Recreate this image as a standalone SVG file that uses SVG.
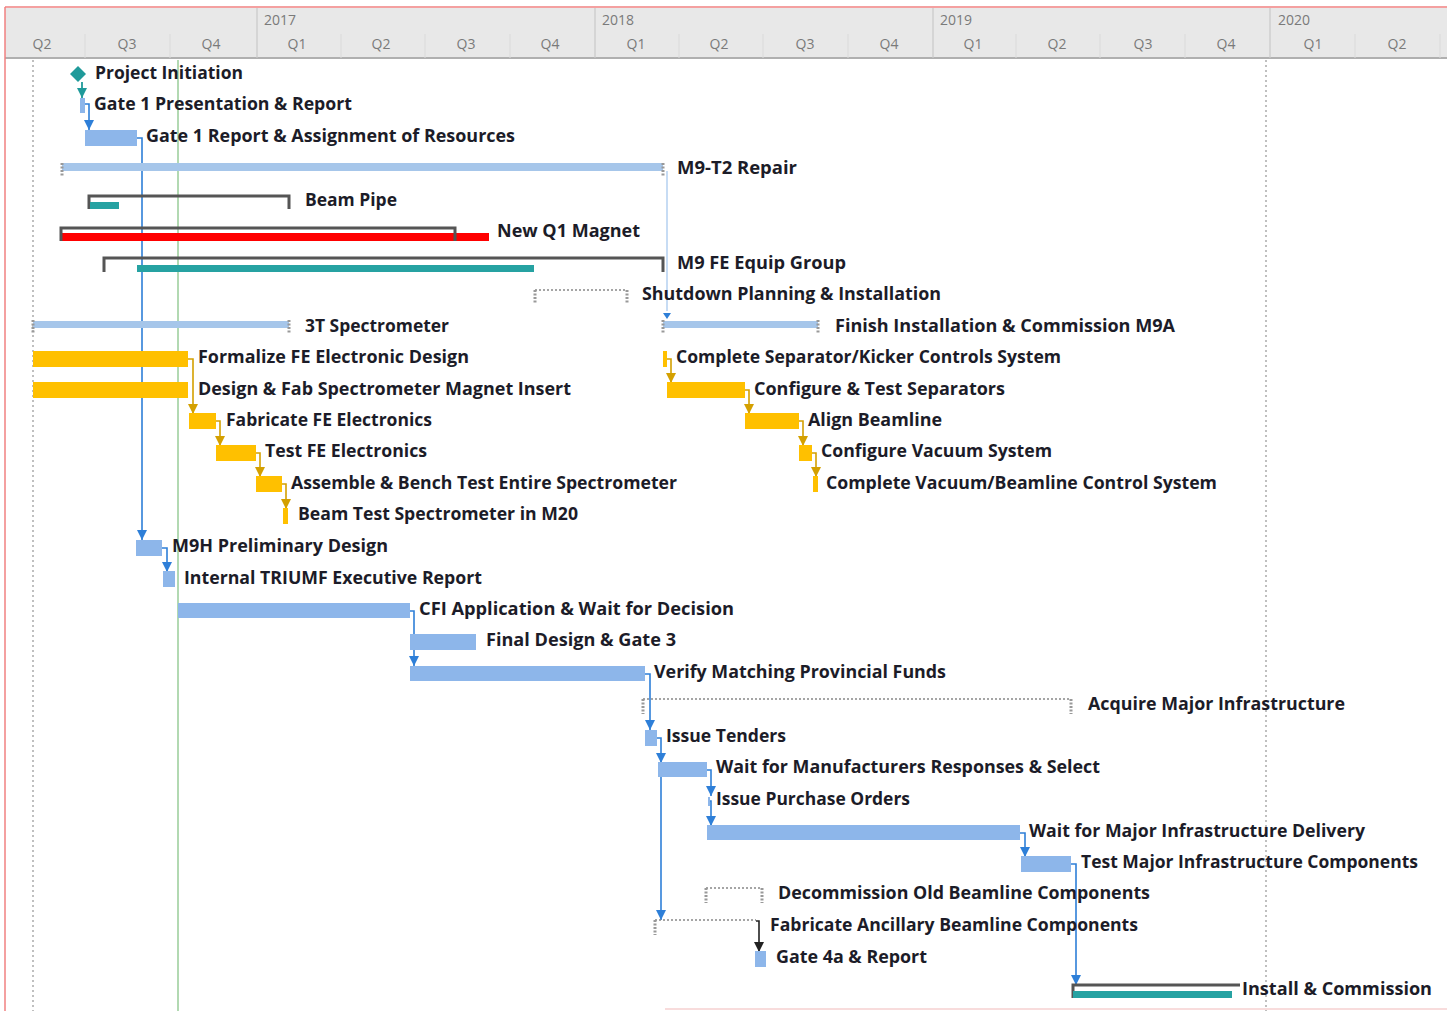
<svg xmlns="http://www.w3.org/2000/svg" width="1447" height="1011" viewBox="0 0 1447 1011">
<style>
.t{font-family:"Open Sans","Liberation Sans",sans-serif;font-weight:700;font-size:18px;fill:#1c1c28}
.hy{font-family:"Open Sans","Liberation Sans",sans-serif;font-size:14px;fill:#7a7a7a}
.hq{font-family:"Open Sans","Liberation Sans",sans-serif;font-size:14px;fill:#7a7a7a;text-anchor:middle}
.task{fill:#8db6ea}
.sum{fill:#a6c6ea}
.yel{fill:#ffc000}
.teal{fill:#26a2a2}
.red{fill:#ff0000}
.br{fill:none;stroke:#555;stroke-width:3}
.dot{fill:none;stroke:#888;stroke-width:1.5;stroke-dasharray:2 2}
.tick{fill:none;stroke:#999;stroke-width:3;stroke-dasharray:2 1.5}
.cb{fill:none;stroke:#2e7fd8;stroke-width:1.6}
.cy{fill:none;stroke:#d4a000;stroke-width:1.6}
.ck{fill:none;stroke:#222;stroke-width:1.6}
.ct{fill:none;stroke:#1f9a9a;stroke-width:1.8}
.cl{fill:none;stroke:#b5d0f0;stroke-width:1.5}
</style>
<defs>
<marker id="ab" markerUnits="userSpaceOnUse" markerWidth="10" markerHeight="10" viewBox="0 0 10 10" refX="10" refY="5" orient="auto"><path d="M0,0 L10,5 L0,10 z" fill="#2e7fd8"/></marker>
<marker id="ay" markerUnits="userSpaceOnUse" markerWidth="10" markerHeight="10" viewBox="0 0 10 10" refX="10" refY="5" orient="auto"><path d="M0,0 L10,5 L0,10 z" fill="#d4a000"/></marker>
<marker id="ak" markerUnits="userSpaceOnUse" markerWidth="10" markerHeight="10" viewBox="0 0 10 10" refX="10" refY="5" orient="auto"><path d="M0,0 L10,5 L0,10 z" fill="#222"/></marker>
<marker id="at" markerUnits="userSpaceOnUse" markerWidth="10" markerHeight="10" viewBox="0 0 10 10" refX="10" refY="5" orient="auto"><path d="M0,0 L10,5 L0,10 z" fill="#1f9a9a"/></marker>
</defs>
<rect x="0" y="0" width="1447" height="1011" fill="#fff"/>
<g id="timescale">
<rect x="5" y="8" width="1442" height="50" fill="#e8e8e8"/>
<line x1="5" y1="58" x2="1447" y2="58" stroke="#b0b0b0" stroke-width="2"/>
<g stroke="#dadada" stroke-width="1">
<line x1="85" y1="34" x2="85" y2="58"/><line x1="170" y1="34" x2="170" y2="58"/><line x1="341" y1="34" x2="341" y2="58"/><line x1="425" y1="34" x2="425" y2="58"/><line x1="510" y1="34" x2="510" y2="58"/><line x1="679" y1="34" x2="679" y2="58"/><line x1="763" y1="34" x2="763" y2="58"/><line x1="848" y1="34" x2="848" y2="58"/><line x1="1016" y1="34" x2="1016" y2="58"/><line x1="1100" y1="34" x2="1100" y2="58"/><line x1="1185" y1="34" x2="1185" y2="58"/><line x1="1355" y1="34" x2="1355" y2="58"/><line x1="1440" y1="34" x2="1440" y2="58"/>
</g>
<g stroke="#c8c8c8" stroke-width="1.2">
<line x1="257" y1="8" x2="257" y2="58"/><line x1="595" y1="8" x2="595" y2="58"/><line x1="933" y1="8" x2="933" y2="58"/><line x1="1270" y1="8" x2="1270" y2="58"/>
</g>
<text class="hy" x="264" y="25">2017</text><text class="hy" x="602" y="25">2018</text><text class="hy" x="940" y="25">2019</text><text class="hy" x="1278" y="25">2020</text>
<text class="hq" x="42" y="49">Q2</text><text class="hq" x="127" y="49">Q3</text><text class="hq" x="211" y="49">Q4</text><text class="hq" x="297" y="49">Q1</text><text class="hq" x="381" y="49">Q2</text><text class="hq" x="466" y="49">Q3</text><text class="hq" x="550" y="49">Q4</text><text class="hq" x="636" y="49">Q1</text><text class="hq" x="719" y="49">Q2</text><text class="hq" x="805" y="49">Q3</text><text class="hq" x="889" y="49">Q4</text><text class="hq" x="973" y="49">Q1</text><text class="hq" x="1057" y="49">Q2</text><text class="hq" x="1143" y="49">Q3</text><text class="hq" x="1226" y="49">Q4</text><text class="hq" x="1313" y="49">Q1</text><text class="hq" x="1397" y="49">Q2</text>
</g>
<g id="gridlines">
<line x1="33" y1="60" x2="33" y2="1011" stroke="#aaa" stroke-width="1.5" stroke-dasharray="2 3"/>
<line x1="1266" y1="60" x2="1266" y2="1011" stroke="#aaa" stroke-width="1.5" stroke-dasharray="2 3"/>
<line x1="178" y1="60" x2="178" y2="1011" stroke="#9fd09f" stroke-width="1.6"/>
<line x1="5" y1="7" x2="1447" y2="7" stroke="#f08080" stroke-width="1.5"/>
<line x1="5" y1="7" x2="5" y2="1011" stroke="#f08080" stroke-width="1.5"/>
<line x1="665" y1="1009" x2="1447" y2="1009" stroke="#f6d0d0" stroke-width="1.5"/>
</g>
<g id="connectors">
<path class="ct" d="M82,82 V98" marker-end="url(#at)"/>
<path class="cb" d="M85,104 H89 V130" marker-end="url(#ab)"/>
<path class="cb" d="M137,138 H142 V540" marker-end="url(#ab)"/>
<path class="cb" d="M162,548 H167 V572" marker-end="url(#ab)"/>
<path class="cb" d="M410,611 H414 V666" marker-end="url(#ab)"/>
<path class="cb" d="M645,674 H650 V730" marker-end="url(#ab)"/>
<path class="cb" d="M657,738 H661 V763" marker-end="url(#ab)"/>
<path class="cb" d="M661,762 V920" marker-end="url(#ab)"/>
<path class="cb" d="M707,770 H711 V796" marker-end="url(#ab)"/>
<path class="cb" d="M710,801 H711 V826" marker-end="url(#ab)"/>
<path class="cb" d="M1020,833 H1025 V857" marker-end="url(#ab)"/>
<path class="cb" d="M1071,864 H1076 V985" marker-end="url(#ab)"/>
<path class="ck" d="M756,921 H759 V952" marker-end="url(#ak)"/>
<path class="cl" d="M667,171 V311"/>
<path d="M663,313 L671,313 L667,319 z" fill="#2e7fd8"/>
<path class="cy" d="M188,359 H193 V414" marker-end="url(#ay)"/>
<path class="cy" d="M216,421 H220 V446" marker-end="url(#ay)"/>
<path class="cy" d="M256,453 H260 V477" marker-end="url(#ay)"/>
<path class="cy" d="M282,484 H286 V509" marker-end="url(#ay)"/>
<path class="cy" d="M667,359 H671 V383" marker-end="url(#ay)"/>
<path class="cy" d="M745,390 H749 V414" marker-end="url(#ay)"/>
<path class="cy" d="M799,421 H803 V446" marker-end="url(#ay)"/>
<path class="cy" d="M812,453 H816 V477" marker-end="url(#ay)"/>
</g>
<g id="n-project-initiation"><path d="M78,66 L86,74 L78,82 L70,74 z" fill="#1f9a9a"/><text class="t" x="95" y="79" textLength="148" lengthAdjust="spacingAndGlyphs">Project Initiation</text></g>
<g id="n-gate1-presentation"><rect class="task" x="80" y="98" width="5" height="15"/><text class="t" x="94" y="110" textLength="258" lengthAdjust="spacingAndGlyphs">Gate 1 Presentation &amp; Report</text></g>
<g id="n-gate1-report"><rect class="task" x="85" y="130" width="52" height="16"/><text class="t" x="146" y="142" textLength="369" lengthAdjust="spacingAndGlyphs">Gate 1 Report &amp; Assignment of Resources</text></g>
<g id="n-m9t2"><rect class="sum" x="62" y="163" width="601" height="8"/><path class="tick" d="M62,163 V177 M663,163 V177"/><text class="t" x="677" y="174" textLength="120" lengthAdjust="spacingAndGlyphs">M9-T2 Repair</text></g>
<g id="n-beam-pipe"><path class="br" d="M89,209 V196 H289 V209"/><rect class="teal" x="90" y="202" width="29" height="7"/><text class="t" x="305" y="206" textLength="92" lengthAdjust="spacingAndGlyphs">Beam Pipe</text></g>
<g id="n-new-q1"><rect class="red" x="62" y="233" width="427" height="8"/><path class="br" d="M61,241 V228 H455 V241"/><text class="t" x="497" y="237" textLength="143" lengthAdjust="spacingAndGlyphs">New Q1 Magnet</text></g>
<g id="n-m9fe"><path class="br" d="M104,272 V258 H663 V272"/><rect class="teal" x="137" y="265" width="397" height="7"/><text class="t" x="677" y="269" textLength="169" lengthAdjust="spacingAndGlyphs">M9 FE Equip Group</text></g>
<g id="n-shutdown"><path class="dot" d="M535,290 H627"/><path class="tick" d="M535,290 V304 M627,290 V304"/><text class="t" x="642" y="300" textLength="299" lengthAdjust="spacingAndGlyphs">Shutdown Planning &amp; Installation</text></g>
<g id="n-3t"><rect class="sum" x="33" y="321" width="256" height="7"/><path class="tick" d="M33,320 V333 M289,320 V333"/><text class="t" x="305" y="332" textLength="144" lengthAdjust="spacingAndGlyphs">3T Spectrometer</text></g>
<g id="n-finish-m9a"><rect class="sum" x="663" y="321" width="155" height="7"/><path class="tick" d="M663,320 V333 M818,320 V333"/><text class="t" x="835" y="332" textLength="340" lengthAdjust="spacingAndGlyphs">Finish Installation &amp; Commission M9A</text></g>
<g id="n-formalize"><rect class="yel" x="33" y="351" width="155" height="16"/><text class="t" x="198" y="363" textLength="271" lengthAdjust="spacingAndGlyphs">Formalize FE Electronic Design</text></g>
<g id="n-complete-sep"><rect class="yel" x="663" y="351" width="4" height="16"/><text class="t" x="676" y="363" textLength="385" lengthAdjust="spacingAndGlyphs">Complete Separator/Kicker Controls System</text></g>
<g id="n-design-fab"><rect class="yel" x="33" y="382" width="155" height="16"/><text class="t" x="198" y="395" textLength="373" lengthAdjust="spacingAndGlyphs">Design &amp; Fab Spectrometer Magnet Insert</text></g>
<g id="n-config-sep"><rect class="yel" x="667" y="382" width="78" height="16"/><text class="t" x="754" y="395" textLength="251" lengthAdjust="spacingAndGlyphs">Configure &amp; Test Separators</text></g>
<g id="n-fab-fe"><rect class="yel" x="189" y="413" width="27" height="16"/><text class="t" x="226" y="426" textLength="206" lengthAdjust="spacingAndGlyphs">Fabricate FE Electronics</text></g>
<g id="n-align"><rect class="yel" x="745" y="413" width="54" height="16"/><text class="t" x="808" y="426" textLength="134" lengthAdjust="spacingAndGlyphs">Align Beamline</text></g>
<g id="n-test-fe"><rect class="yel" x="216" y="445" width="40" height="16"/><text class="t" x="265" y="457" textLength="162" lengthAdjust="spacingAndGlyphs">Test FE Electronics</text></g>
<g id="n-config-vac"><rect class="yel" x="799" y="445" width="13" height="16"/><text class="t" x="821" y="457" textLength="231" lengthAdjust="spacingAndGlyphs">Configure Vacuum System</text></g>
<g id="n-assemble"><rect class="yel" x="256" y="476" width="26" height="16"/><text class="t" x="291" y="489" textLength="386" lengthAdjust="spacingAndGlyphs">Assemble &amp; Bench Test Entire Spectrometer</text></g>
<g id="n-complete-vac"><rect class="yel" x="813" y="476" width="5" height="16"/><text class="t" x="826" y="489" textLength="391" lengthAdjust="spacingAndGlyphs">Complete Vacuum/Beamline Control System</text></g>
<g id="n-beam-test"><rect class="yel" x="283" y="508" width="5" height="16"/><text class="t" x="298" y="520" textLength="280" lengthAdjust="spacingAndGlyphs">Beam Test Spectrometer in M20</text></g>
<g id="n-m9h"><rect class="task" x="136" y="540" width="26" height="16"/><text class="t" x="172" y="552" textLength="216" lengthAdjust="spacingAndGlyphs">M9H Preliminary Design</text></g>
<g id="n-triumf"><rect class="task" x="163" y="571" width="12" height="16"/><text class="t" x="184" y="584" textLength="298" lengthAdjust="spacingAndGlyphs">Internal TRIUMF Executive Report</text></g>
<g id="n-cfi"><rect class="task" x="178" y="603" width="232" height="15"/><text class="t" x="419" y="615" textLength="315" lengthAdjust="spacingAndGlyphs">CFI Application &amp; Wait for Decision</text></g>
<g id="n-final-design"><rect class="task" x="410" y="634" width="66" height="16"/><text class="t" x="486" y="646" textLength="190" lengthAdjust="spacingAndGlyphs">Final Design &amp; Gate 3</text></g>
<g id="n-verify"><rect class="task" x="410" y="666" width="235" height="15"/><text class="t" x="654" y="678" textLength="292" lengthAdjust="spacingAndGlyphs">Verify Matching Provincial Funds</text></g>
<g id="n-acquire"><path class="dot" d="M643,699 H1071"/><path class="tick" d="M643,699 V714 M1071,699 V714"/><text class="t" x="1088" y="710" textLength="257" lengthAdjust="spacingAndGlyphs">Acquire  Major Infrastructure</text></g>
<g id="n-tenders"><rect class="task" x="645" y="730" width="12" height="16"/><text class="t" x="666" y="742" textLength="120" lengthAdjust="spacingAndGlyphs">Issue Tenders</text></g>
<g id="n-wait-manuf"><rect class="task" x="658" y="762" width="49" height="15"/><text class="t" x="716" y="773" textLength="384" lengthAdjust="spacingAndGlyphs">Wait for Manufacturers Responses &amp; Select</text></g>
<g id="n-purchase"><rect class="task" x="708" y="797" width="2" height="9"/><text class="t" x="716" y="805" textLength="194" lengthAdjust="spacingAndGlyphs">Issue Purchase Orders</text></g>
<g id="n-wait-major"><rect class="task" x="707" y="825" width="313" height="15"/><text class="t" x="1029" y="837" textLength="336" lengthAdjust="spacingAndGlyphs">Wait for Major Infrastructure Delivery</text></g>
<g id="n-test-major"><rect class="task" x="1021" y="856" width="50" height="16"/><text class="t" x="1081" y="868" textLength="337" lengthAdjust="spacingAndGlyphs">Test Major Infrastructure Components</text></g>
<g id="n-decommission"><path class="dot" d="M706,888 H762"/><path class="tick" d="M706,888 V903 M762,888 V903"/><text class="t" x="778" y="899" textLength="372" lengthAdjust="spacingAndGlyphs">Decommission Old Beamline Components</text></g>
<g id="n-fab-anc"><path class="dot" d="M655,920 H756"/><path class="tick" d="M655,920 V935"/><text class="t" x="770" y="931" textLength="368" lengthAdjust="spacingAndGlyphs">Fabricate Ancillary Beamline Components</text></g>
<g id="n-gate4a"><rect class="task" x="755" y="951" width="11" height="16"/><text class="t" x="776" y="963" textLength="151" lengthAdjust="spacingAndGlyphs">Gate 4a &amp; Report</text></g>
<g id="n-install"><path class="br" d="M1073,998 V985 H1240"/><rect class="teal" x="1073" y="991" width="159" height="7"/><text class="t" x="1242" y="995" textLength="190" lengthAdjust="spacingAndGlyphs">Install &amp; Commission</text></g>
</svg>
